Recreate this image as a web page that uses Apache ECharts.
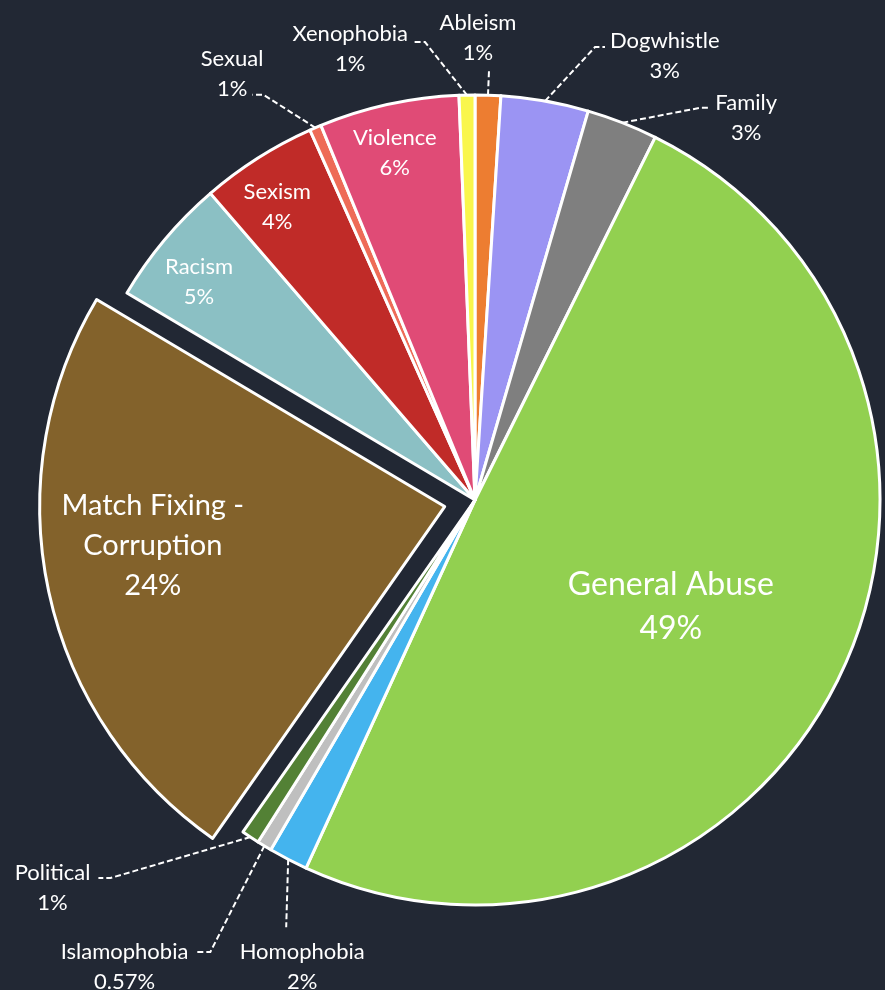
<!DOCTYPE html>
<html>
<head>
<meta charset="utf-8">
<script src="https://cdn.jsdelivr.net/npm/echarts@6/dist/echarts.min.js"></script>
<style>
  html, body { margin: 0; padding: 0; background: #222834; }
  #chart { width: 885px; height: 990px; }
</style>
</head>
<body>
<div id="chart"></div>
<script>
// ---- data ----
const categories = ['Ableism', 'Dogwhistle', 'Family', 'General Abuse', 'Homophobia', 'Islamophobia',
  'Political', 'Match Fixing - Corruption', 'Racism', 'Sexism', 'Sexual', 'Violence', 'Xenophobia'];
const values = [1.02, 3.49, 2.83, 49.51, 1.56, 0.59, 0.71, 23.83, 5.13, 4.65, 0.47, 5.58, 0.63];
const percentLabels = ['1%', '3%', '3%', '49%', '2%', '0.57%', '1%', '24%', '5%', '4%', '1%', '6%', '1%'];
const colors = ['#ED7D31', '#9B94F3', '#7F7F7F', '#92D050', '#44B4EE', '#BFBFBF',
  '#538135', '#83622B', '#8BC0C4', '#C02B28', '#EE6B57', '#E04B76', '#F9F64C'];
const explodedSlices = ['Match Fixing - Corruption'];

// ---- layout / style ----
const CX = 475, CY = 500, R = 405, EXPLODE = 31;
const FONT = 'Lato';
const textSizes = {
  small: { fontSize: 22, lineHeight: 30 },
  big: { fontSize: 32, lineHeight: 44 },
  mid: { fontSize: 29, lineHeight: 40 }
};
const insideLabels = {
  'General Abuse': { rf: 0.551, dA: 3.1, size: 'big' },
  'Match Fixing - Corruption': { rf: 0.727, dA: 4.6, size: 'mid' },
  'Racism': { rf: 0.868, dA: -1.7, size: 'small' },
  'Sexism': { rf: 0.873, dA: -1.6, size: 'small' },
  'Violence': { rf: 0.88, dA: -0.7, size: 'small' }
};
const outsideLabels = {
  'Xenophobia': { elbow: [-42, -53], h: -11, align: 'right', gap: [-6, 7] },
  'Ableism': { elbow: [1, -24], h: 0, align: 'center', gap: [-11, -33] },
  'Dogwhistle': { elbow: [50, -54], h: 10, align: 'left', gap: [5, 9] },
  'Family': { elbow: [78, -15], h: 10, align: 'left', gap: [5, 10] },
  'Sexual': { elbow: [-52, -33], h: -11, align: 'right', gap: [11, -21] },
  'Political': { elbow: [-140, 41], h: -12, align: 'right', gap: [-8, 10] },
  'Islamophobia': { elbow: [-54, 106], h: -15, align: 'right', gap: [-7, 15] },
  'Homophobia': { elbow: [-2, 68], h: 0, align: 'center', gap: [16, 40] }
};

const total = values.reduce((a, b) => a + b, 0);
function midAngle(i) {
  let cum = 0;
  for (let k = 0; k < i; k++) cum += values[k];
  return (cum + values[i] / 2) / total * 360;
}
const rad = d => d * Math.PI / 180;

function labelFor(name, i, show) {
  const inside = insideLabels[name];
  const size = textSizes[inside ? inside.size : 'small'];
  return {
    show: show,
    position: inside ? 'inside' : 'outside',
    rich: { t: { fontFamily: FONT, fontSize: size.fontSize, lineHeight: size.lineHeight, color: '#ffffff', align: 'center' } }
  };
}

// visible slices (exploded slice label drawn by the overlay series)
const sliceData = categories.map((name, i) => ({
  name: name,
  value: values[i],
  selected: explodedSlices.includes(name),
  itemStyle: { color: colors[i] },
  label: labelFor(name, i, !explodedSlices.includes(name)),
  labelLine: { show: !insideLabels[name] }
}));
// transparent overlay carrying the exploded slice's label
const overlayData = categories.map((name, i) => ({
  name: name,
  value: values[i],
  itemStyle: { color: 'rgba(0,0,0,0)' },
  label: labelFor(name, i, explodedSlices.includes(name)),
  labelLine: { show: false }
}));

function layoutLabel(p) {
  const i = p.dataIndex;
  const name = categories[i];
  const mid = midAngle(i);
  const ux = Math.sin(rad(mid)), uy = -Math.cos(rad(mid));
  const off = explodedSlices.includes(name) ? EXPLODE : 0;
  const ox = CX + ux * off, oy = CY + uy * off;
  const ins = insideLabels[name];
  if (ins) {
    const a = rad(mid + ins.dA);
    return { x: ox + Math.sin(a) * ins.rf * R, y: oy - Math.cos(a) * ins.rf * R, align: 'center', verticalAlign: 'middle' };
  }
  const s = outsideLabels[name];
  const p0 = [CX + ux * R, CY + uy * R];
  const p1 = [p0[0] + s.elbow[0], p0[1] + s.elbow[1]];
  const p2 = [p1[0] + s.h, p1[1]];
  return { x: p2[0] + s.gap[0], y: p2[1] + s.gap[1], align: s.align, verticalAlign: 'middle', labelLinePoints: [p0, p1, p2] };
}

const labelFormatter = p => p.name.split(' - ').join(' -\n').split('\n').map(s => '{t|' + s + '}').join('\n')
  + '\n{t|' + percentLabels[p.dataIndex] + '}';

const common = {
  type: 'pie',
  center: [CX, CY],
  radius: R,
  startAngle: 90,
  clockwise: true,
  avoidLabelOverlap: false,
  emphasis: { disabled: true },
  label: { color: '#ffffff', fontFamily: FONT, textBorderWidth: 0, formatter: labelFormatter },
  labelLayout: layoutLabel
};

const chart = echarts.init(document.getElementById('chart'), null, { renderer: 'canvas' });
chart.setOption({
  backgroundColor: '#222834',
  animation: false,
  series: [
    Object.assign({}, common, {
      selectedMode: 'single',
      selectedOffset: EXPLODE,
      select: { itemStyle: { borderColor: '#ffffff', borderWidth: 3 } },
      itemStyle: { borderColor: '#ffffff', borderWidth: 3 },
      labelLine: { lineStyle: { color: '#ffffff', width: 2, type: [6, 3] } },
      data: sliceData
    }),
    Object.assign({}, common, {
      silent: true,
      selectedMode: false,
      itemStyle: { borderWidth: 0 },
      labelLine: { show: false },
      data: overlayData
    })
  ]
});
</script>
</body>
</html>
